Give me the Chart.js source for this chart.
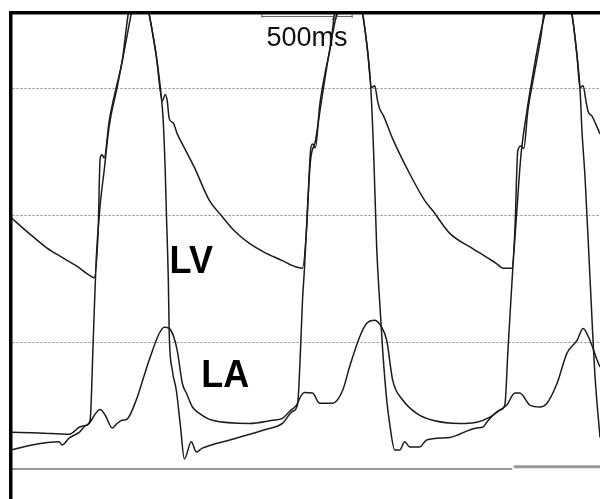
<!DOCTYPE html>
<html>
<head>
<meta charset="utf-8">
<script src="https://cdn.jsdelivr.net/npm/chart.js@4.4.1/dist/chart.umd.min.js"></script>
<style>
  html, body { margin: 0; padding: 0; background: #fff; }
  canvas { display: block; }
</style>
</head>
<body>
<canvas id="pressureChart" width="600" height="499"></canvas>
<script>
// time in ms, pressure in mmHg
let lvTime = [0,115,264,280,319,374,412,434,451,467,489,511,539,582,621,659,709,758,797,824,835,846,852,863,868,885,907,929,951,989,1017,1050,1214,1401,1489,1544,1572,1588,1599,1610,1627,1643,1670,1703,1747,1786,1857,1929,1956,1973,1989,2006,2022,2039,2061,2077,2105,2132,2160,2187,2242,2280,2407,2555,2588,2610,2681,2709,2726,2742,2753,2775,2797,2830,2857,2901,2929,3000,3077,3105,3121,3132,3149,3176,3204,3231];
let lvPressure = [3.0,3.8,4.3,3.8,4.9,5.8,6.9,7.7,20.3,32.9,41.6,47.1,54.2,60.2,66.0,71.8,80,71.8,65.2,58.9,55.0,47.1,40.8,29.8,21.4,15.6,12.4,6.9,1.6,4.3,2.7,3.3,4.7,6.3,7.2,9.1,10.2,18.7,26.6,31.7,41.6,48.7,51.8,58.1,66.0,71.8,80,71.8,66.0,60.5,50.2,35.0,26.6,18.7,10.9,7.2,3.0,3.0,4.3,3.5,3.5,4.6,5.0,6.5,6.6,7.4,9.3,10.1,18.7,26.6,31.8,40.8,49.4,56.5,61.3,68.3,71.8,80,71.8,65.2,60.2,53.4,46.0,30.2,14.5,5.0];

let aoTime = [0,99,192,280,357,429,456,478,489,500,511,539,577,610,643,703,758,797,830,846,857,868,890,912,951,1006,1088,1154,1225,1308,1390,1489,1544,1599,1621,1643,1654,1670,1693,1725,1753,1775,1846,1929,1956,1978,1995,2011,2022,2044,2094,2187,2269,2313,2407,2533,2610,2665,2698,2748,2764,2780,2797,2813,2835,2868,2907,2923,3000,3077,3105,3121,3138,3154,3165,3187,3231];
let aoPressure = [39.7,37.2,35.0,33.4,32.1,30.6,30.2,37.5,49.0,49.6,49.1,55.0,60.2,64.4,71.8,78.6,71.8,65.2,58.1,59.1,58.1,55.3,54.6,52.9,50.7,47.6,42.4,40.0,37.6,35.6,34.2,32.9,32.1,31.7,37.6,50.2,51.3,50.7,57.3,62.8,66.8,71.8,78.6,71.8,66.0,60.2,60.5,58.1,56.9,55.7,52.1,46.6,42.4,40.8,37.2,34.8,33.4,32.4,31.7,31.7,37.6,50.2,51.0,50.6,56.5,62.0,68.3,71.8,78.6,71.8,65.2,60.2,60.5,58.1,56.5,55.7,52.9];

let laTime = [0,154,319,374,429,462,489,517,555,582,610,637,687,731,758,813,841,868,890,912,940,962,995,1033,1105,1308,1434,1489,1528,1566,1594,1610,1654,1693,1764,1819,1857,1912,1951,1995,2033,2061,2094,2149,2225,2313,2462,2555,2627,2681,2720,2764,2791,2846,2901,2940,2995,3050,3105,3138,3176,3215,3231];
let laPressure = [5.8,5.7,5.5,6.6,7.2,8.7,9.4,8.5,6.5,7.2,7.7,7.9,10.9,14.8,17.2,21.4,22.4,22.2,21.1,18.7,13.5,12.0,9.8,8.8,7.7,7.2,7.7,8.0,9.1,10.1,11.7,12.1,12.0,10.4,10.4,12.4,16.1,20.8,23.0,23.5,22.4,20.3,14.0,10.9,8.8,7.7,7.2,7.4,8.2,9.3,10.1,12.0,12.0,10.1,9.8,10.4,13.5,18.3,20.3,22.2,20.3,17.2,16.1];

let baseTime = [0, 2750];
let baseLevel = [0, 0];
let markTime = [2758, 3231];
let markLevel = [0.35, 0.35];

let gridLevels = [20, 40, 60];
let scaleBarStart = 1374;
let scaleBarMs = 500;

function toPoints(xs, ys) {
  return xs.map((x, i) => ({ x: x, y: ys[i] }));
}

const overlay = {
  id: 'overlay',
  afterDatasetsDraw(chart) {
    const ctx = chart.ctx;
    const x = chart.scales.x, y = chart.scales.y;
    const top = chart.chartArea.top;
    ctx.save();
    ctx.fillStyle = '#000';
    ctx.textBaseline = 'alphabetic';
    ctx.font = 'bold 36px "Liberation Sans", Arial, sans-serif';
    [['LV', 870, 31.0], ['LA', 1044, 12.9]].forEach(l => {
      ctx.save();
      ctx.translate(x.getPixelForValue(l[1]), y.getPixelForValue(l[2]));
      ctx.scale(1, 1.08);
      ctx.fillText(l[0], 0, 0);
      ctx.restore();
    });

    // 500 ms scale bar
    const x0 = x.getPixelForValue(scaleBarStart);
    const x1 = x.getPixelForValue(scaleBarStart + scaleBarMs);
    ctx.strokeStyle = '#666';
    ctx.lineWidth = 1;
    ctx.beginPath();
    ctx.moveTo(x0, top + 3.5); ctx.lineTo(x1, top + 3.5);
    ctx.moveTo(x0 + 0.5, top); ctx.lineTo(x0 + 0.5, top + 5);
    ctx.moveTo(x1 - 0.5, top); ctx.lineTo(x1 - 0.5, top + 5);
    ctx.stroke();
    const xb = x.getPixelForValue(scaleBarStart + 390);
    ctx.strokeStyle = '#222';
    ctx.beginPath();
    ctx.moveTo(xb, top + 7); ctx.lineTo(xb + 2, top + 1);
    ctx.moveTo(xb + 3, top + 7); ctx.lineTo(xb + 5, top + 1);
    ctx.stroke();

    ctx.font = '27px "Liberation Sans", Arial, sans-serif';
    ctx.textAlign = 'center';
    ctx.fillStyle = '#111';
    ctx.fillText('500ms', (x0 + x1) / 2, top + 33);
    ctx.restore();
  }
};

const traceStyle = { borderColor: '#1c1c1c', borderWidth: 1.5, pointRadius: 0, cubicInterpolationMode: 'monotone', fill: false };

new Chart(document.getElementById('pressureChart').getContext('2d'), {
  type: 'line',
  data: {
    datasets: [
      Object.assign({ label: 'AO', data: toPoints(aoTime, aoPressure) }, traceStyle),
      Object.assign({ label: 'LV', data: toPoints(lvTime, lvPressure) }, traceStyle),
      Object.assign({ label: 'LA', data: toPoints(laTime, laPressure) }, traceStyle),
      { label: 'zero', data: toPoints(baseTime, baseLevel), borderColor: '#777', borderWidth: 1.5, pointRadius: 0 },
      { label: 'marker', data: toPoints(markTime, markLevel), borderColor: '#999', borderWidth: 3, pointRadius: 0 }
    ]
  },
  options: {
    responsive: false,
    animation: false,
    layout: { padding: { left: 11, top: 5, right: 0, bottom: 0 } },
    plugins: { legend: { display: false }, tooltip: { enabled: false } },
    scales: {
      x: {
        type: 'linear',
        position: 'top',
        min: 0,
        max: 3231,
        ticks: { display: false },
        grid: { display: false },
        border: { display: true, color: '#000', width: 3.5, z: 1 }
      },
      y: {
        min: -4.72,
        max: 71.97,
        afterBuildTicks: axis => { axis.ticks = gridLevels.map(v => ({ value: v })); },
        ticks: { display: false },
        grid: { color: '#8a8a8a', lineWidth: 1, drawTicks: false },
        border: { display: true, color: '#000', width: 3.5, dash: [2, 2], z: 1 }
      }
    }
  },
  plugins: [overlay]
});
</script>
</body>
</html>
